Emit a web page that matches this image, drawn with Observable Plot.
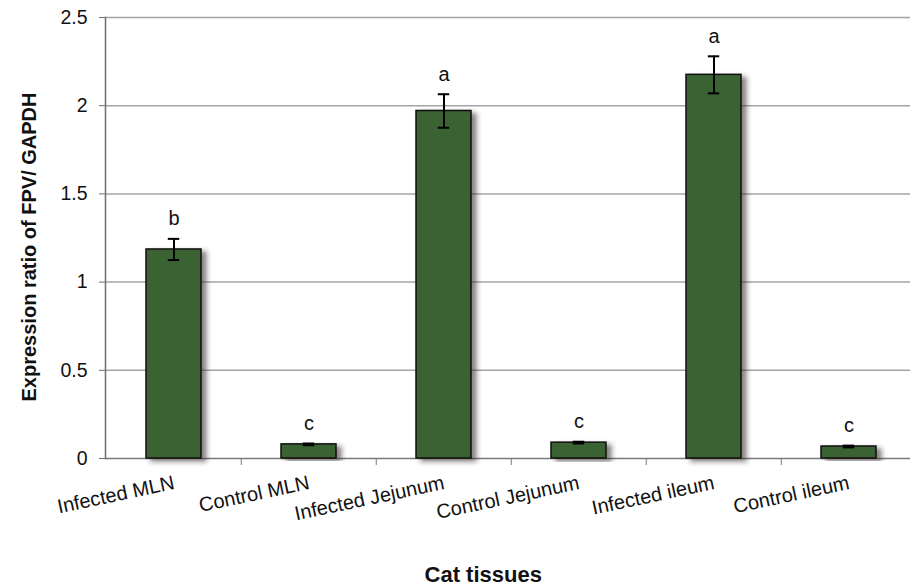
<!DOCTYPE html>
<html>
<head>
<meta charset="utf-8">
<script src="https://cdn.jsdelivr.net/npm/d3@7"></script>
<script src="https://cdn.jsdelivr.net/npm/@observablehq/plot@0.6"></script>
<style>
  html, body { margin: 0; padding: 0; background: #fff; }
  #chart { width: 910px; height: 588px; overflow: hidden; }
  svg { font-family: "Liberation Sans", Arial, sans-serif; }
</style>
</head>
<body>
<div id="chart"></div>
<script>
const categories = ["Infected MLN", "Control MLN", "Infected Jejunum", "Control Jejunum", "Infected ileum", "Control ileum"];
const values = [1.185, 0.08, 1.97, 0.09, 2.175, 0.068];
const errors = [0.06, 0.005, 0.095, 0.005, 0.105, 0.005];
const letters = ["b", "c", "a", "c", "a", "c"];
const yTicks = [0, 0.5, 1, 1.5, 2, 2.5];

const data = categories.map((c, i) => ({cat: c, v: values[i], e: errors[i], letter: letters[i]}));

const xRange = [105, 918];
const pad = 0.59;
const step = (xRange[1] - xRange[0]) / categories.length;
const bw = step * (1 - pad);
const capInset = bw / 2 - 6;

const plot = Plot.plot({
  width: 910,
  height: 588,
  marginLeft: 105,
  marginTop: 17,
  marginBottom: 130,
  marginRight: 0,
  style: {fontFamily: "'Liberation Sans', Arial, sans-serif", background: "#fff", overflow: "visible"},
  x: {domain: categories, range: xRange, paddingInner: pad, paddingOuter: pad / 2},
  y: {domain: [0, 2.5], ticks: yTicks},
  marks: [
    Plot.gridY(yTicks.slice(1), {stroke: "#a4a4a4", strokeOpacity: 1, strokeWidth: 1.5}),
    Plot.ruleY([0], {stroke: "#7a7a7a", strokeWidth: 1.5}),
    Plot.frame({anchor: "left", stroke: "#6e6e6e", strokeWidth: 1.5}),
    Plot.axisY({ticks: yTicks, tickSize: 6, tickPadding: 12, fontSize: 19.5, stroke: "#6e6e6e",
      tickFormat: d => String(d), label: null, fill: "#111"}),
    Plot.axisX({ticks: categories.slice(1), tickSize: 7, text: null, dx: -step / 2, stroke: "#7a7a7a", label: null}),
    Plot.axisX({tickSize: 0, tickRotate: -12, fontSize: 20, tickPadding: 24, label: null, fill: "#111"}),
    Plot.barY(data, {x: "cat", y: "v", fill: "#3b6232", stroke: "#111", strokeWidth: 1.5}),
    Plot.ruleX(data, {x: "cat", y1: d => d.v - d.e, y2: d => d.v + d.e, stroke: "#000", strokeWidth: 2}),
    Plot.tickY(data, {x: "cat", y: d => d.v + d.e, stroke: "#000", strokeWidth: 2, insetLeft: capInset, insetRight: capInset}),
    Plot.tickY(data, {x: "cat", y: d => d.v - d.e, stroke: "#000", strokeWidth: 2, insetLeft: capInset, insetRight: capInset}),
    Plot.text(data, {x: "cat", y: d => d.v + d.e, text: "letter", dy: -20, fontSize: 20, fill: "#111", lineAnchor: "middle"}),
    Plot.text(["Expression ratio of FPV/ GAPDH"], {frameAnchor: "left", textAnchor: "middle", lineAnchor: "bottom", rotate: -90, dx: -70, dy: 9, fontSize: 20, fontWeight: "bold", fill: "#111"}),
    Plot.text(["Cat tissues"], {frameAnchor: "bottom", textAnchor: "middle", lineAnchor: "bottom", dx: 486.7 - (xRange[0] + xRange[1]) / 2, dy: 123, fontSize: 22, fontWeight: "bold", fill: "#111"})
  ]
});

// drop shadow behind bars
const svg = d3.select(plot);
const defs = svg.insert("defs", ":first-child");
const f = defs.append("filter").attr("id", "barShadow").attr("x", "-20%").attr("y", "-20%").attr("width", "160%").attr("height", "140%");
f.append("feDropShadow").attr("dx", 5).attr("dy", 3).attr("stdDeviation", 2.5).attr("flood-color", "#2a1a1a").attr("flood-opacity", 0.55);
svg.selectAll("g[aria-label='bar'] rect").attr("filter", "url(#barShadow)");

document.getElementById("chart").appendChild(plot);
</script>
</body>
</html>
